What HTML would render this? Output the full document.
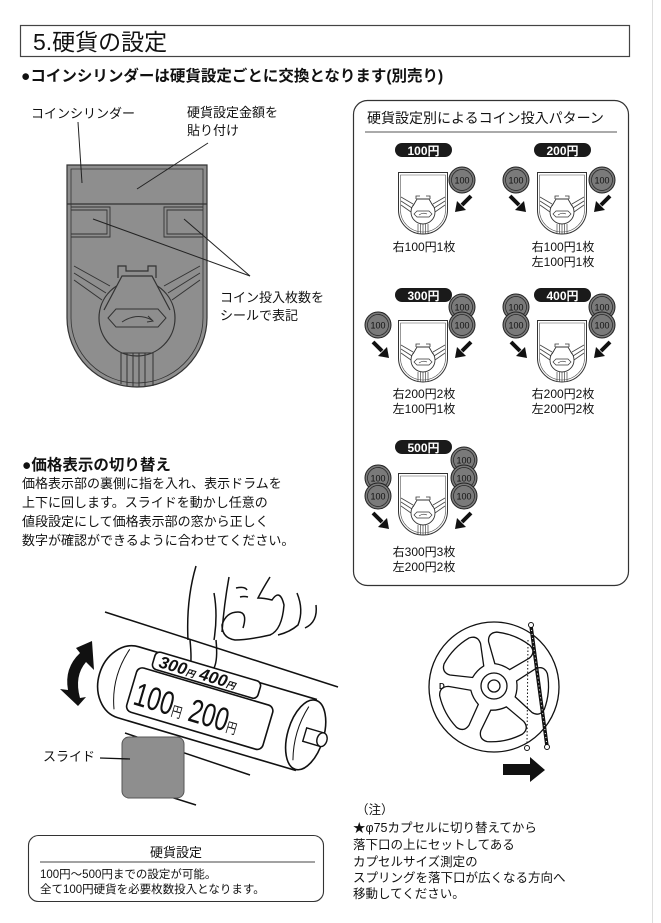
<!DOCTYPE html>
<html><head><meta charset="utf-8"><style>
html,body{margin:0;padding:0;background:#fff}
svg{display:block}
text{font-family:"Liberation Sans","Noto Sans CJK JP",sans-serif;fill:#111}
.b{font-weight:bold}
</style></head><body>
<svg width="661" height="923" viewBox="0 0 661 923" xmlns="http://www.w3.org/2000/svg">
<defs>
<g id="cyl">
<path d="M0.5,0.5 H49.5 V38 A24.5,24 0 0 1 25,62 A24.5,24 0 0 1 0.5,38 Z" fill="#fff" stroke="#333" stroke-width="1"/>
<path d="M2.5,3 H47.5 V38 A22.5,22 0 0 1 25,60 A22.5,22 0 0 1 2.5,38 Z" fill="none" stroke="#555" stroke-width="0.6"/>
<g stroke="#444" stroke-width="0.8" fill="none">
<path d="M3,25 L15,32 M3,29 L14,36 M3,33 L13,40 M47,25 L35,32 M47,29 L36,36 M47,33 L37,40"/>
</g>
<circle cx="25" cy="40" r="12" fill="#fff" stroke="#333" stroke-width="0.9"/>
<path d="M15,34 L19,27 H31 L35,34" fill="#fff" stroke="#333" stroke-width="0.9"/>
<path d="M18,27 V24 H22 M28,24 H32 V27" fill="none" stroke="#333" stroke-width="0.8"/>
<path d="M16,42 L19,39 H31 L34,42 L31,45 H19 Z" fill="none" stroke="#333" stroke-width="0.7"/>
<path d="M21,43 Q25,40 29,42" fill="none" stroke="#333" stroke-width="0.6"/>
<g stroke="#444" stroke-width="0.7"><path d="M20,52 V61 M22.5,52 V62 M25,52 V62 M27.5,52 V62 M30,52 V61"/></g>
</g>
<g id="coin">
<circle r="13" fill="#7a7a7a" stroke="#222" stroke-width="1"/>
<circle r="10.5" fill="none" stroke="#222" stroke-width="0.7"/>
<text x="0" y="3.5" text-anchor="middle" font-size="9" style="fill:#111">100</text>
</g>
<g id="arr"><path d="M8,-8 L-1,1" stroke="#111" stroke-width="4"/><path d="M-8,8 L-6,-3 L3,6 Z" fill="#111"/></g>
<g id="pill"><rect width="57" height="14" rx="7" fill="#1a1a1a"/></g>
<path id="petal" d="M-8,-22 Q0,-24 8,-22 L22,-40 Q26,-48 18,-52 Q0,-57 -18,-52 Q-26,-48 -22,-40 Z" fill="#fff" stroke="#111" stroke-width="1.3"/>
</defs>

<line x1="652.5" y1="0" x2="652.5" y2="923" stroke="#ddd" stroke-width="1"/>

<rect x="20.5" y="25.5" width="609" height="31" fill="#fff" stroke="#444" stroke-width="1.2"/>
<text x="33" y="50" font-size="23">5.硬貨の設定</text>
<text x="21" y="81" font-size="15.5" class="b">●コインシリンダーは硬貨設定ごとに交換となります(別売り)</text>

<text x="31" y="118" font-size="13">コインシリンダー</text>
<text x="187" y="117" font-size="13">硬貨設定金額を</text>
<text x="187" y="135" font-size="13">貼り付け</text>
<text x="220" y="302" font-size="13">コイン投入枚数を</text>
<text x="220" y="320" font-size="13">シールで表記</text>

<g stroke="#333" stroke-width="1.2">
<path d="M67,165 H207 V318 A70,69 0 0 1 137,387 A70,69 0 0 1 67,318 Z" fill="#8e8e8e"/>
<path d="M71,169 H203 V318 A66,65 0 0 1 137,383 A66,65 0 0 1 71,318 Z" fill="none" stroke-width="0.8"/>
<line x1="67" y1="204" x2="207" y2="204"/>
<path d="M71,207 H110 V237 H71 M71,210 H107 V234 H71" fill="none" stroke-width="0.9"/>
<path d="M203,207 H164 V237 H203 M203,210 H167 V234 H203" fill="none" stroke-width="0.9"/>
<path d="M74,266 L110,286 M74,273 L106,293 M74,280 L102,300 M200,266 L164,286 M200,273 L168,293 M200,280 L172,300" fill="none" stroke-width="1"/>
<circle cx="137" cy="318" r="38" fill="#8e8e8e"/>
<path d="M104,310 L122,276 H152 L170,310" fill="#8e8e8e"/>
<path d="M118,278 V266 H126 V271 H148 V266 H156 V278" fill="none"/>
<path d="M108,318 L116,309 H158 L166,318 L158,327 H116 Z" fill="none" stroke-width="1"/>
<path d="M122,322 Q137,312 152,320" fill="none" stroke-width="1"/>
<path d="M148,316 L153,321 L147,322" fill="none" stroke-width="1"/>
<path d="M121,353 H153 V386 M121,353 V384 M127,353 V386 M133,353 V387 M139,353 V387 M145,353 V386" fill="none" stroke-width="1"/>
</g>
<g stroke="#222" stroke-width="1">
<line x1="78" y1="122" x2="82" y2="183"/>
<line x1="208" y1="143" x2="137" y2="189"/>
<line x1="93" y1="219" x2="250" y2="276"/>
<line x1="184" y1="219" x2="250" y2="276"/>
</g>

<rect x="353.5" y="100.5" width="275" height="485" rx="14" fill="none" stroke="#333" stroke-width="1.2"/>
<text x="367" y="123" font-size="14">硬貨設定別によるコイン投入パターン</text>
<line x1="365" y1="132" x2="617" y2="132" stroke="#555" stroke-width="1"/>

<use href="#pill" x="395" y="143"/><text x="423.5" y="155" font-size="12" text-anchor="middle" style="fill:#fff" class="b">100円</text>
<use href="#cyl" x="398" y="172"/>
<use href="#coin" x="462" y="180"/>
<use href="#arr" x="463" y="204"/>
<text x="424" y="251" font-size="12" text-anchor="middle">右100円1枚</text>
<use href="#pill" x="534" y="143"/><text x="562.5" y="155" font-size="12" text-anchor="middle" style="fill:#fff" class="b">200円</text>
<use href="#cyl" x="537" y="172"/>
<use href="#coin" x="516" y="180"/><use href="#coin" x="602" y="180"/>
<use href="#arr" transform="translate(518,204) scale(-1,1)"/>
<use href="#arr" x="602" y="204"/>
<text x="563" y="251" font-size="12" text-anchor="middle">右100円1枚</text>
<text x="563" y="266" font-size="12" text-anchor="middle">左100円1枚</text>
<use href="#pill" x="395" y="288"/><text x="423.5" y="300" font-size="12" text-anchor="middle" style="fill:#fff" class="b">300円</text>
<use href="#cyl" x="398" y="320"/>
<use href="#coin" x="462" y="307"/><use href="#coin" x="462" y="325"/>
<use href="#coin" x="378" y="325"/>
<use href="#arr" transform="translate(381,350) scale(-1,1)"/>
<use href="#arr" x="463" y="350"/>
<text x="424" y="398" font-size="12" text-anchor="middle">右200円2枚</text>
<text x="424" y="413" font-size="12" text-anchor="middle">左100円1枚</text>
<use href="#pill" x="534" y="288"/><text x="562.5" y="300" font-size="12" text-anchor="middle" style="fill:#fff" class="b">400円</text>
<use href="#cyl" x="537" y="320"/>
<use href="#coin" x="516" y="307"/><use href="#coin" x="516" y="325"/>
<use href="#coin" x="602" y="307"/><use href="#coin" x="602" y="325"/>
<use href="#arr" transform="translate(519,350) scale(-1,1)"/>
<use href="#arr" x="602" y="350"/>
<text x="563" y="398" font-size="12" text-anchor="middle">右200円2枚</text>
<text x="563" y="413" font-size="12" text-anchor="middle">左200円2枚</text>
<use href="#pill" x="395" y="440"/><text x="423.5" y="452" font-size="12" text-anchor="middle" style="fill:#fff" class="b">500円</text>
<use href="#cyl" x="398" y="473"/>
<use href="#coin" x="464" y="460"/><use href="#coin" x="464" y="478"/><use href="#coin" x="464" y="496"/>
<use href="#coin" x="378" y="478"/><use href="#coin" x="378" y="496"/>
<use href="#arr" transform="translate(381,521) scale(-1,1)"/>
<use href="#arr" x="463" y="521"/>
<text x="424" y="556" font-size="12" text-anchor="middle">右300円3枚</text>
<text x="424" y="571" font-size="12" text-anchor="middle">左200円2枚</text>

<text x="22" y="470" font-size="15.5" class="b">●価格表示の切り替え</text>
<text x="22" y="488" font-size="13">価格表示部の裏側に指を入れ、表示ドラムを</text>
<text x="22" y="507" font-size="13">上下に回します。スライドを動かし任意の</text>
<text x="22" y="526" font-size="13">値段設定にして価格表示部の窓から正しく</text>
<text x="22" y="545" font-size="13">数字が確認ができるように合わせてください。</text>

<g stroke="#111" fill="none" stroke-width="1.5">
<line x1="105" y1="612" x2="338" y2="687"/>
<line x1="125" y1="733" x2="250" y2="775"/>
<line x1="123" y1="782" x2="196" y2="805"/>
<path d="M196,566 Q186,600 188,640"/>
<path d="M229,577 Q224,605 222,632"/>
<path d="M214,593 Q218,615 214,640"/>
<path d="M236,588 Q245,586 247,590 M240,597 Q244,596 248,597"/>
<path d="M270,577 Q262,590 258,598 Q264,598 272,600 Q280,588 284,605 Q282,630 270,635 Q248,640 235,640 Q222,638 222,625 Q226,612 238,612 Q248,612 243,628"/>
<path d="M297,593 Q304,610 298,625 Q290,632 278,635"/>
<path d="M316,605 Q318,622 305,628"/>
<path d="M190,640 Q192,660 190,668"/>
<path d="M216,640 Q218,660 214,668"/>
</g>
<rect x="122" y="737" width="62" height="61" rx="7" fill="#8e8e8e" stroke="#555" stroke-width="1"/>
<g transform="translate(205,705) rotate(16.5)">
<path d="M-80,-37 H105 V37 H-80 A30,37 0 0 1 -80,-37 Z" fill="#fff" stroke="#111" stroke-width="1.6"/>
<path d="M-88,-32 Q-98,0 -86,30" fill="none" stroke="#111" stroke-width="1"/>
<rect x="-62" y="-38" width="110" height="18" rx="5" fill="#fff" stroke="#111" stroke-width="1.6"/>
<rect x="-75" y="-18" width="142" height="46" rx="6" fill="#fff" stroke="#111" stroke-width="1.6"/>
<text x="-56" y="-23" font-size="17" font-style="italic" class="b">300<tspan font-size="9">円</tspan> 400<tspan font-size="9">円</tspan></text>
<g transform="scale(0.8,1.1)"><text x="-88" y="18" font-size="30">100<tspan font-size="13">円</tspan> 200<tspan font-size="13">円</tspan></text></g>
<ellipse cx="105" cy="0" rx="18" ry="36" fill="#fff" stroke="#111" stroke-width="1.6"/>
<path d="M100,-28 Q92,0 100,28" fill="none" stroke="#111" stroke-width="1"/>
<rect x="104" y="-7" width="18" height="14" fill="#fff" stroke="#111" stroke-width="1.4"/>
<ellipse cx="122" cy="0" rx="5" ry="7" fill="#fff" stroke="#111" stroke-width="1.4"/>
</g>
<path d="M92,641 L94,670 L86,662 Q74,676 80,698 L86,697 L78,706 L60,689 L68,690 Q64,668 80,653 L76,648 Z" fill="#111"/>
<text x="43" y="761" font-size="13">スライド</text>
<line x1="100" y1="758" x2="130" y2="759" stroke="#111" stroke-width="1.3"/>

<circle cx="494" cy="687" r="65" fill="#fff" stroke="#111" stroke-width="1.3"/>
<g transform="translate(494,687)">
<use href="#petal" transform="rotate(22)"/>
<use href="#petal" transform="rotate(-46)"/>
<use href="#petal" transform="rotate(-118)"/>
<use href="#petal" transform="rotate(95)"/>
<use href="#petal" transform="rotate(168)"/>
</g>
<circle cx="494" cy="686" r="13" fill="#fff" stroke="#111" stroke-width="1.3"/>
<circle cx="494" cy="686" r="6" fill="#fff" stroke="#111" stroke-width="1.3"/>
<text x="439" y="689" font-size="8" class="b">D</text>
<line x1="531" y1="626" x2="547" y2="746" stroke="#111" stroke-width="3.5"/>
<line x1="531" y1="626" x2="547" y2="746" stroke="#fff" stroke-width="1" stroke-dasharray="1,3"/>
<circle cx="531" cy="625" r="2.5" fill="#fff" stroke="#111"/>
<circle cx="547" cy="747" r="2.5" fill="#fff" stroke="#111"/>
<line x1="528" y1="640" x2="527" y2="745" stroke="#111" stroke-width="1" stroke-dasharray="1.5,2"/>
<circle cx="527" cy="748" r="2.5" fill="#fff" stroke="#111"/>
<path d="M503,764 H530 V757 L545,770 L530,782 V775 H503 Z" fill="#111"/>

<g font-size="12.5">
<text x="356" y="814">（注）</text>
<text x="353" y="832">★φ75カプセルに切り替えてから</text>
<text x="353" y="849">落下口の上にセットしてある</text>
<text x="353" y="866">カプセルサイズ測定の</text>
<text x="353" y="882">スプリングを落下口が広くなる方向へ</text>
<text x="353" y="898">移動してください。</text>
</g>

<rect x="28.5" y="835.5" width="295" height="66" rx="10" fill="none" stroke="#333" stroke-width="1.1"/>
<text x="176" y="857" font-size="13" text-anchor="middle">硬貨設定</text>
<line x1="40" y1="862" x2="315" y2="862" stroke="#444" stroke-width="1"/>
<text x="40" y="878" font-size="11.5">100円〜500円までの設定が可能。</text>
<text x="40" y="893" font-size="11.5">全て100円硬貨を必要枚数投入となります。</text>
</svg>
</body></html>
